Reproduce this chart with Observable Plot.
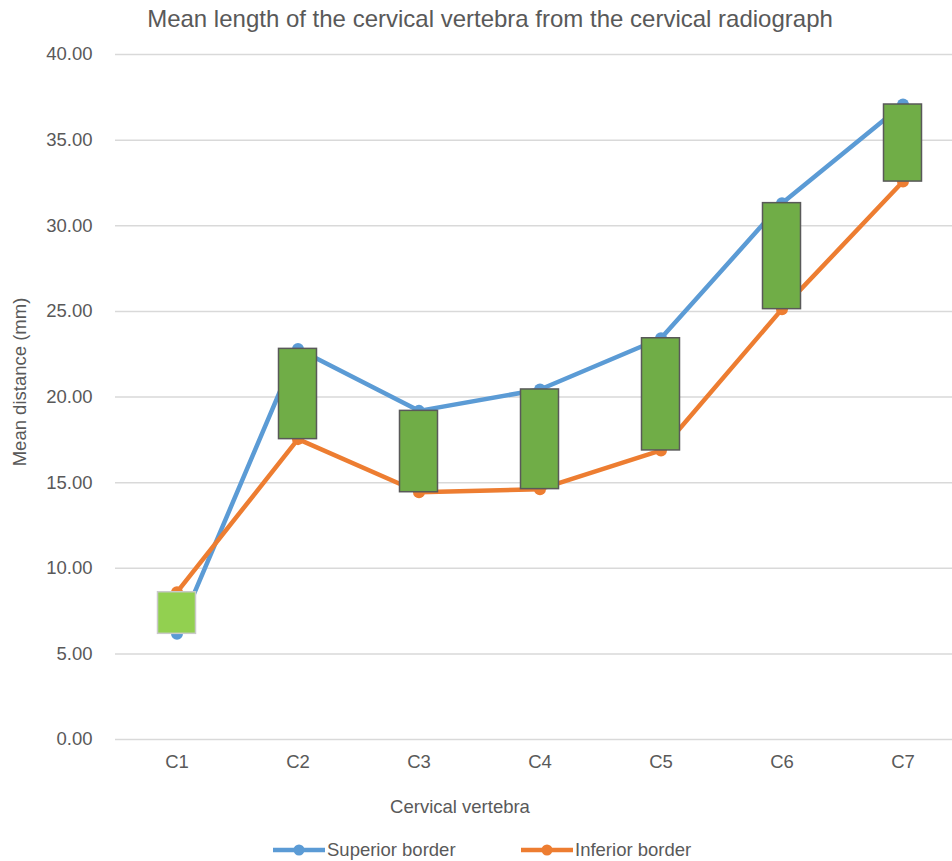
<!DOCTYPE html>
<html>
<head>
<meta charset="utf-8">
<script src="https://cdn.jsdelivr.net/npm/d3@7"></script>
<script src="https://cdn.jsdelivr.net/npm/@observablehq/plot@0.6"></script>
<style>
  html, body { margin: 0; padding: 0; background: #fff; }
  body { width: 952px; height: 861px; position: relative; overflow: hidden;
         font-family: "Liberation Sans", Arial, sans-serif; color: #595959; }
  #title { position: absolute; left: 0; top: 4px; width: 980px; text-align: center;
           font-size: 24px; line-height: 30px; }
  #chart { position: absolute; left: 0; top: 0; }
  #ylabel { position: absolute; left: 20px; top: 382px; width: 0; height: 0; }
  #ylabel span { position: absolute; transform: translate(-50%, -50%) rotate(-90deg);
                 white-space: nowrap; font-size: 18.5px; line-height: 22px; }
  #xlabel { position: absolute; left: 0; top: 794px; width: 920px; text-align: center;
            font-size: 18.5px; line-height: 26px; }
  #legend { position: absolute; left: 0; top: 838px; width: 952px; height: 23px; }
  .item { position: absolute; top: 0; display: flex; align-items: center; font-size: 18.5px; line-height: 23px; }
  .item svg { margin-right: 2px; }
</style>
</head>
<body>
<div id="title">Mean length of the cervical vertebra from the cervical radiograph</div>
<div id="chart"></div>
<div id="ylabel"><span>Mean distance (mm)</span></div>
<div id="xlabel">Cervical vertebra</div>
<div id="legend"></div>
<script>
// Mean distances (mm) for each cervical vertebra
const vertebrae = ["C1", "C2", "C3", "C4", "C5", "C6", "C7"];
const superior = [6.17, 22.81, 19.19, 20.44, 23.43, 31.32, 37.08];
const inferior = [8.60, 17.54, 14.44, 14.62, 16.88, 25.13, 32.58];
const yTicks = [0, 5, 10, 15, 20, 25, 30, 35, 40];

const seriesNames = ["Superior border", "Inferior border"];
const seriesColors = ["#5B9BD5", "#ED7D31"];

const rows = vertebrae.map((v, i) => ({
  vertebra: v,
  superior: superior[i],
  inferior: inferior[i],
  up: superior[i] >= inferior[i]
}));

const long = [
  ...rows.map(d => ({vertebra: d.vertebra, value: d.superior, series: seriesNames[0]})),
  ...rows.map(d => ({vertebra: d.vertebra, value: d.inferior, series: seriesNames[1]}))
];

const chart = Plot.plot({
  width: 952,
  height: 800,
  marginTop: 54,
  marginBottom: 61,
  marginLeft: 115,
  marginRight: 0,
  style: {fontFamily: "'Liberation Sans', Arial, sans-serif", fontSize: "18.5px", color: "#595959", overflow: "visible"},
  x: {type: "band", domain: vertebrae, range: [115, 964], padding: 0},
  y: {domain: [0, 40], ticks: yTicks},
  color: {domain: seriesNames, range: seriesColors},
  marks: [
    Plot.gridY(yTicks, {stroke: "#d9d9d9", strokeOpacity: 1, strokeWidth: 1.5}),
    Plot.axisY(yTicks, {
      tickSize: 0, tickPadding: 23, tickFormat: d => d.toFixed(2),
      fontSize: 18.5, fill: "#595959", label: null
    }),
    Plot.axisX({tickSize: 0, tickPadding: 15, fontSize: 18.5, fill: "#595959", label: null}),
    Plot.line(long, {x: "vertebra", y: "value", z: "series", stroke: "series", strokeWidth: 4.5, strokeLinejoin: "round"}),
    Plot.dot(long, {x: "vertebra", y: "value", fill: "series", r: 6, stroke: "none"}),
    // up/down bars spanning the two borders
    Plot.barY(rows, {
      x: "vertebra", y1: "inferior", y2: "superior",
      insetLeft: 41.5, insetRight: 41.5,
      fill: d => d.up ? "#70AD47" : "#92D050",
      stroke: d => d.up ? "#595959" : "#c9c9c9",
      strokeWidth: 1.5
    })
  ]
});
document.getElementById("chart").append(chart);

// Legend: line-with-marker swatches
const legend = document.getElementById("legend");
const legendLeft = [273, 521];
seriesNames.forEach((name, i) => {
  const item = document.createElement("div");
  item.className = "item";
  item.style.left = legendLeft[i] + "px";
  item.innerHTML = `<svg width="52" height="23"><line x1="0" x2="52" y1="12" y2="12" stroke="${seriesColors[i]}" stroke-width="4.5"/><circle cx="26" cy="12" r="5.5" fill="${seriesColors[i]}"/></svg><span>${name}</span>`;
  legend.append(item);
});
</script>
</body>
</html>
